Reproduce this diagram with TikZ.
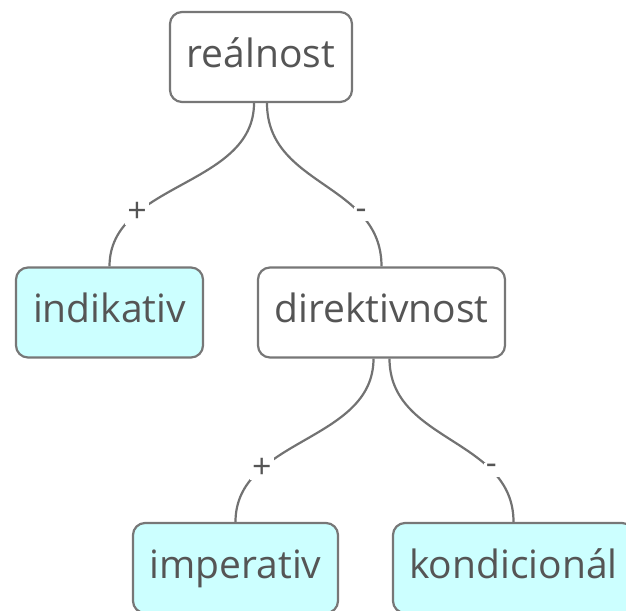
\documentclass[tikz,border=0pt]{standalone}
\usepackage{fontspec}
\setmainfont{Open Sans}
\usetikzlibrary{calc}
\definecolor{boxline}{HTML}{777777}
\definecolor{edgeline}{HTML}{727272}
\definecolor{txt}{HTML}{555555}
\definecolor{leaf}{HTML}{CCFFFF}
\tikzset{
  box/.style={draw=boxline, line width=2.2pt, rounded corners=12pt, fill=white,
    minimum height=90pt, inner sep=0pt, text height=30pt, text depth=10pt,
    text=txt, font=\fontsize{39}{44}\selectfont},
  leafbox/.style={box, fill=leaf},
  edge/.style={draw=edgeline, line width=2.2pt},
  lbl/.style={fill=white, text=txt, inner sep=2pt, font=\fontsize{34}{36}\selectfont}
}
\begin{document}
\begin{tikzpicture}[x=1pt,y=-1pt]
\useasboundingbox (0,0) rectangle (626,610);
\clip (0,0) rectangle (626,610);
\node[box, minimum width=182pt] (r) at (261,57) {reálnost};
\node[leafbox, minimum width=187pt] (ind) at (109.5,312.5) {indikativ};
\node[box, minimum width=247pt] (dir) at (381.5,312.5) {direktivnost};
\node[leafbox, minimum width=205pt] (imp) at (235.5,568) {imperativ};
\node[leafbox, minimum width=241pt] (kon) at (513.5,568) {kondicionál};
\coordinate (r1) at ($(r.south)+(-7,0)$);
\coordinate (r2) at ($(r.south)+(6,0)$);
\coordinate (d1) at ($(dir.south)+(-8,0)$);
\coordinate (d2) at ($(dir.south)+(8,0)$);
\draw[edge] (r1) .. controls ($(r1)+(0,84)$) and ($(ind.north)+(0,-84)$) .. (ind.north) node[pos=0.72, lbl] {+};
\draw[edge] (r2) .. controls ($(r2)+(0,84)$) and ($(dir.north)+(0,-84)$) .. (dir.north) node[pos=0.73, lbl] {-};
\draw[edge] (d1) .. controls ($(d1)+(0,84)$) and ($(imp.north)+(0,-84)$) .. (imp.north) node[pos=0.72, lbl] {+};
\draw[edge] (d2) .. controls ($(d2)+(0,84)$) and ($(kon.north)+(0,-84)$) .. (kon.north) node[pos=0.73, lbl] {-};
\end{tikzpicture}
\end{document}
